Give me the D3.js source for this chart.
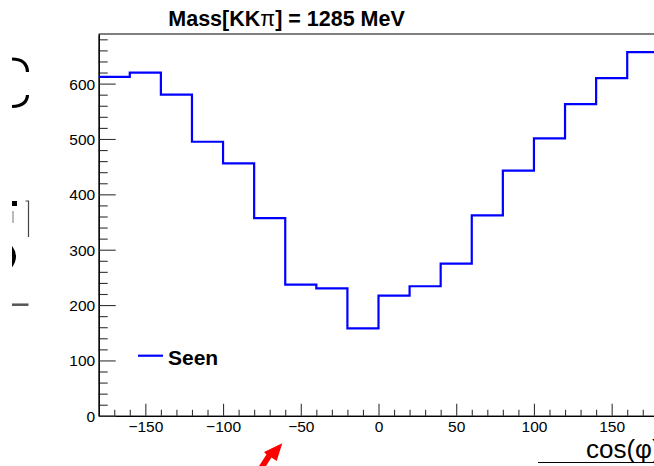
<!DOCTYPE html>
<html>
<head>
<meta charset="utf-8">
<script src="https://cdn.jsdelivr.net/npm/d3@7"></script>
<style>
  html, body { margin: 0; padding: 0; background: #fff; }
  svg { display: block; font-family: "Liberation Sans", Arial, Helvetica, sans-serif; }
</style>
</head>
<body>
<svg id="chart" width="654" height="466"></svg>
<script>
// ---- data ----
const binLow = [-180, -160, -140, -120, -100, -80, -60, -40, -20, 0, 20, 40, 60, 80, 100, 120, 140, 160];
const binHigh = 180;
const seenCounts = [612, 620, 580, 495, 456, 357, 237, 230, 158, 217, 234, 275, 362, 443, 501, 563, 610, 657];
const xMajorTicks = [-150, -100, -50, 0, 50, 100, 150];
const xMinorTicks = [-170, -160, -140, -130, -120, -110, -90, -80, -70, -60, -40, -30, -20, -10, 10, 20, 30, 40, 60, 70, 80, 90, 110, 120, 130, 140, 160, 170];
const yMajorTicks = [0, 100, 200, 300, 400, 500, 600];
const yMinorTicks = [20, 40, 60, 80, 120, 140, 160, 180, 220, 240, 260, 280, 320, 340, 360, 380, 420, 440, 460, 480, 520, 540, 560, 580, 620, 640, 660, 680];
const titleMain = "Mass[KK";
const titleSym = "π";
const titleTail = "] = 1285 MeV";
const xTitle = "cos(φ)";
const legendLabel = "Seen";

(function () {
// ---- layout ----
const svg = d3.select("#chart");
const pLeft = 98.7, pRight = 658.3, pTop = 34, pBottom = 415.8;
const x = d3.scaleLinear().domain([-180, 180]).range([pLeft, pRight]);
const y = d3.scaleLinear().domain([0, 689.6]).range([pBottom, pTop]);
const minus = s => String(s).replace("-", "\u2212");

// frame
svg.append("line").attr("x1", pLeft).attr("x2", pRight).attr("y1", pTop).attr("y2", pTop)
  .attr("stroke", "#000").attr("stroke-width", 1);
svg.append("line").attr("x1", pRight).attr("x2", pRight).attr("y1", pTop).attr("y2", pBottom)
  .attr("stroke", "#000").attr("stroke-width", 1);

// x axis
const gx = svg.append("g").attr("transform", `translate(0,${pBottom})`);
gx.call(d3.axisBottom(x).tickValues(xMinorTicks).tickSizeInner(-6).tickSizeOuter(0).tickFormat(""));
const gx2 = svg.append("g").attr("transform", `translate(0,${pBottom})`);
gx2.call(d3.axisBottom(x).tickValues(xMajorTicks).tickSizeInner(-12).tickSizeOuter(0).tickFormat(minus));
[gx, gx2].forEach(g => {
  g.select(".domain").attr("stroke", "#000").attr("stroke-width", 1.2);
  g.selectAll(".tick line").attr("stroke", "#333").attr("stroke-width", 1.1);
});
gx2.selectAll(".tick text").attr("y", 16.5).attr("dy", 0)
  .attr("font-size", "15.5px").attr("fill", "#000").attr("font-family", "Liberation Sans, Arial, sans-serif");

// y axis
const gy = svg.append("g").attr("transform", `translate(${pLeft},0)`);
gy.call(d3.axisLeft(y).tickValues(yMinorTicks).tickSizeInner(-9).tickSizeOuter(0).tickFormat(""));
const gy2 = svg.append("g").attr("transform", `translate(${pLeft},0)`);
gy2.call(d3.axisLeft(y).tickValues(yMajorTicks).tickSizeInner(-17).tickSizeOuter(0));
[gy, gy2].forEach(g => {
  g.select(".domain").attr("stroke", "#000").attr("stroke-width", 1.2);
  g.selectAll(".tick line").attr("stroke", "#333").attr("stroke-width", 1.1);
});
gy2.selectAll(".tick text").attr("x", -3.5).attr("dy", "5.5px")
  .attr("font-size", "15.5px").attr("fill", "#000").attr("font-family", "Liberation Sans, Arial, sans-serif");

// histogram
const pts = binLow.map((b, i) => [b, seenCounts[i]]);
pts.push([binHigh, seenCounts[seenCounts.length - 1]]);
const line = d3.line().x(d => x(d[0])).y(d => y(d[1])).curve(d3.curveStepAfter);
svg.append("path").datum(pts).attr("d", line)
  .attr("fill", "none").attr("stroke", "#0000ff").attr("stroke-width", 2.2);

// title
const t = svg.append("text").attr("x", 168.3).attr("y", 26)
  .attr("font-size", "21.5px").attr("font-weight", "bold").attr("fill", "#000");
t.append("tspan").text(titleMain);
t.append("tspan").attr("font-weight", "normal").text(titleSym);
t.append("tspan").text(titleTail);

// legend
svg.append("line").attr("x1", 138).attr("x2", 163).attr("y1", 355.7).attr("y2", 355.7)
  .attr("stroke", "#0000ff").attr("stroke-width", 2.2);
svg.append("text").attr("x", 168).attr("y", 365).attr("font-size", "21px")
  .attr("font-weight", "bold").attr("fill", "#000").text(legendLabel);

// x axis title (partly cut by the right edge, as in the reference)
svg.append("text").attr("x", 586).attr("y", 457.7).attr("font-size", "26px")
  .attr("fill", "#000").text(xTitle);

// bottom-right border line
svg.append("line").attr("x1", 538).attr("x2", 654).attr("y1", 462.5).attr("y2", 462.5)
  .attr("stroke", "#000").attr("stroke-width", 1);

// red arrow
svg.append("path")
  .attr("d", "M282.3,443.3 L276.7,461 L271.5,457.5 L266,466 L259,466 L266.5,454.5 L264,452 Z")
  .attr("fill", "#ff0000");

// clipped glyph fragments on left edge
const frag = svg.append("g").attr("fill", "none").attr("stroke", "#000");
frag.append("path").attr("d", "M12,59 Q27,59 27.5,72").attr("stroke-width", 3.2);
frag.append("path").attr("d", "M27.5,95 Q27,106 12,106.5").attr("stroke-width", 3.2);
svg.append("rect").attr("x", 12).attr("y", 201).attr("width", 5).attr("height", 5).attr("fill", "#000");
svg.append("rect").attr("x", 12).attr("y", 211).attr("width", 2).attr("height", 12).attr("fill", "#bbb");
svg.append("path").attr("d", "M25.5,201 L28.5,201 L28.5,237").attr("fill", "none").attr("stroke", "#444").attr("stroke-width", 1.2);
svg.append("path").attr("d", "M12,245.7 Q20,256.5 12,267.3 Z").attr("fill", "#000");
svg.append("line").attr("x1", 12).attr("x2", 28.5).attr("y1", 304.7).attr("y2", 304.7)
  .attr("stroke", "#555").attr("stroke-width", 2.5);
})();
</script>
</body>
</html>
